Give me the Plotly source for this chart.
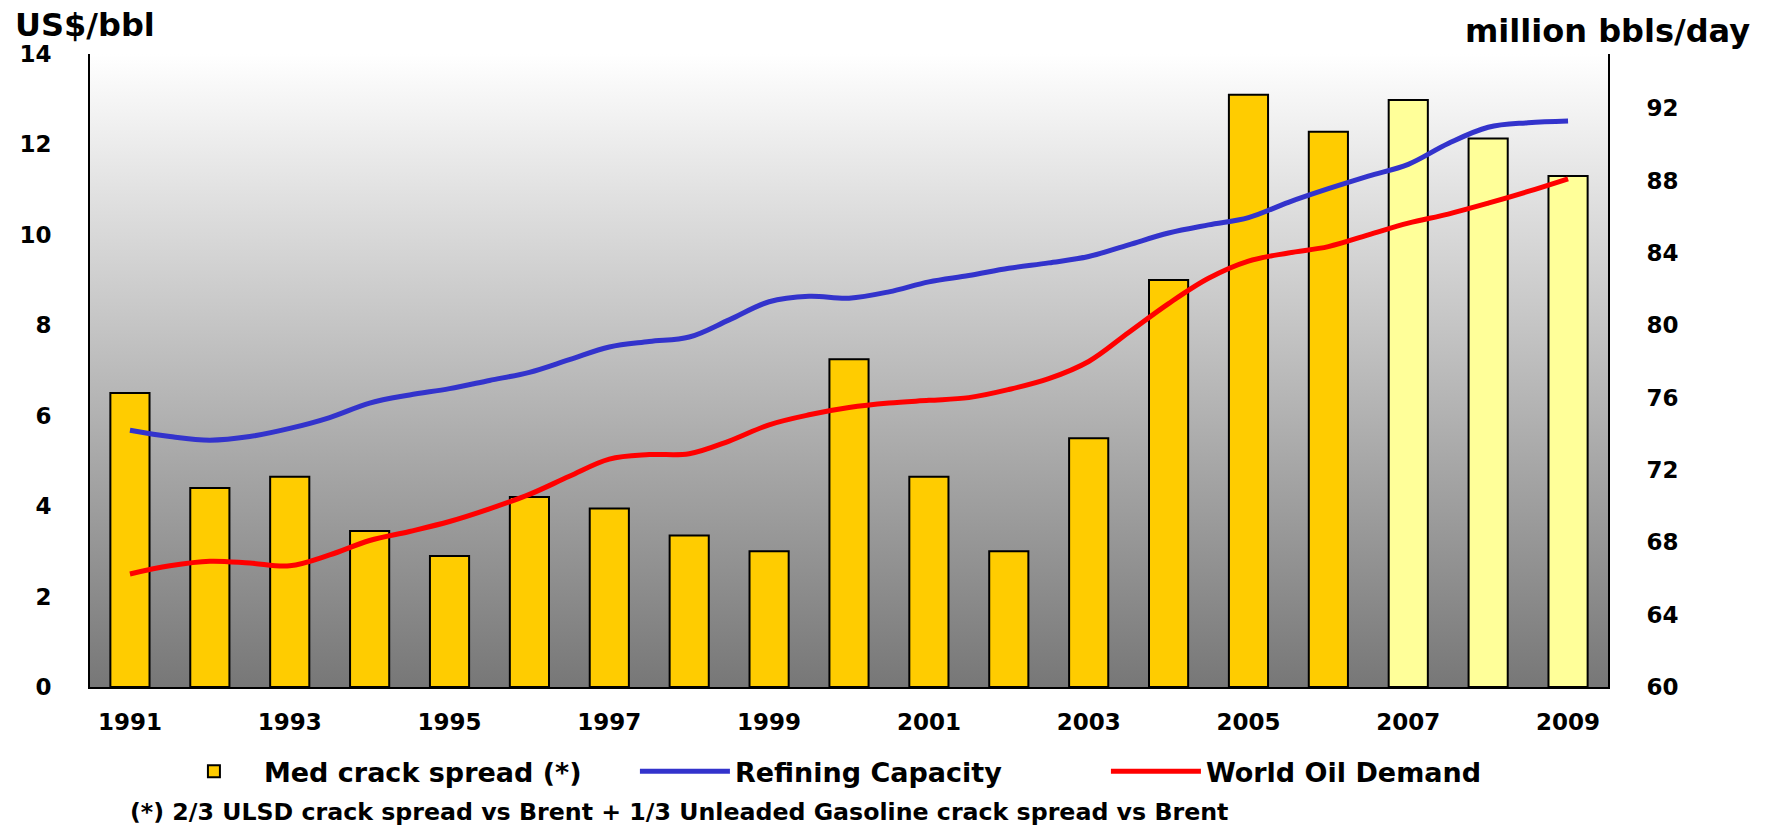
import base64
import plotly.graph_objects as go

# ---------------- data ----------------
years = list(range(1991, 2010))
crack_spread = [6.5, 4.4, 4.65, 3.45, 2.9, 4.2, 3.95, 3.35, 3.0, 7.25,
                4.65, 3.0, 5.5, 9.0, 13.1, 12.28, 12.98, 12.13, 11.3]
forecast_from = 2007

line_x = [1991.0, 1991.5, 1992.0, 1992.5, 1993.0, 1993.5, 1994.0, 1994.5,
          1995.0, 1995.5, 1996.0, 1996.5, 1997.0, 1997.5, 1998.0, 1998.5,
          1999.0, 1999.5, 2000.0, 2000.5, 2001.0, 2001.5, 2002.0, 2002.5,
          2003.0, 2003.5, 2004.0, 2004.5, 2005.0, 2005.5, 2006.0, 2006.5,
          2007.0, 2007.5, 2008.0, 2008.5, 2009.0]
refining_capacity = [74.2, 73.85, 73.65, 73.85, 74.3, 74.9, 75.7, 76.15,
                     76.5, 76.95, 77.4, 78.1, 78.8, 79.1, 79.35, 80.3,
                     81.3, 81.6, 81.5, 81.85, 82.4, 82.75, 83.15, 83.45,
                     83.8, 84.45, 85.1, 85.55, 85.95, 86.8, 87.55, 88.25,
                     88.9, 90.05, 90.95, 91.2, 91.3]
world_demand = [66.25, 66.7, 66.95, 66.85, 66.7, 67.3, 68.1, 68.6,
                69.15, 69.85, 70.65, 71.65, 72.6, 72.85, 72.9, 73.6,
                74.5, 75.05, 75.45, 75.7, 75.85, 76.0, 76.45, 77.05,
                78.0, 79.6, 81.2, 82.6, 83.55, 84.0, 84.35, 85.0,
                85.65, 86.15, 86.75, 87.4, 88.1]

x_tick_vals = [1991, 1993, 1995, 1997, 1999, 2001, 2003, 2005, 2007, 2009]
x_tick_text = [str(v) for v in x_tick_vals]
left_ticks = [0, 2, 4, 6, 8, 10, 12, 14]
right_ticks = [60, 64, 68, 72, 76, 80, 84, 88, 92]

names = ["Med crack spread (*)", "Refining Capacity", "World Oil Demand"]
footnote = "(*) 2/3 ULSD crack spread vs Brent + 1/3 Unleaded Gasoline crack spread vs Brent"

# ---------------- styles ----------------
GOLD = "#FFCC00"
LIGHT = "#FFFF99"
BLUE = "#3333CC"
RED = "#FF0000"
bar_colors = [LIGHT if y >= forecast_from else GOLD for y in years]

tick_font = dict(family="DejaVu Sans", size=23, color="black", weight="bold")
title_font = dict(family="DejaVu Sans", size=32, color="black", weight="bold")

fig = go.Figure()
fig.add_trace(go.Bar(
    x=years, y=crack_spread, name=names[0], width=0.49,
    marker=dict(color=bar_colors, line=dict(color="black", width=2)),
    yaxis="y"))
fig.add_trace(go.Scatter(
    x=line_x, y=refining_capacity, name=names[1], mode="lines",
    line=dict(color=BLUE, width=5, shape="spline"), yaxis="y2"))
fig.add_trace(go.Scatter(
    x=line_x, y=world_demand, name=names[2], mode="lines",
    line=dict(color=RED, width=5, shape="spline"), yaxis="y2"))

svg = ('<svg xmlns="http://www.w3.org/2000/svg" width="100" height="100" '
       'preserveAspectRatio="none"><defs><linearGradient id="g" x1="0" y1="0" '
       'x2="0" y2="1"><stop offset="0" stop-color="#FFFFFF"/>'
       '<stop offset="1" stop-color="#777777"/></linearGradient></defs>'
       '<rect width="100" height="100" fill="url(#g)"/></svg>')
src = "data:image/svg+xml;base64," + base64.b64encode(svg.encode()).decode()

fig.update_layout(
    width=1772, height=827,
    margin=dict(l=90, r=164, t=54, b=140),
    paper_bgcolor="white", plot_bgcolor="rgba(0,0,0,0)",
    showlegend=True,
    images=[dict(source=src, xref="paper", yref="paper", x=0, y=1,
                 sizex=1, sizey=1, xanchor="left", yanchor="top",
                 sizing="stretch", layer="below")],
    xaxis=dict(range=[1990.5, 2009.5], tickvals=x_tick_vals, ticktext=x_tick_text,
               showgrid=False, zeroline=False, showline=True, linecolor="black",
               linewidth=2, ticks="", tickfont=tick_font, ticklabelstandoff=13),
    yaxis=dict(range=[0, 14], tickvals=left_ticks, showgrid=False, zeroline=False,
               showline=True, linecolor="black", linewidth=2, ticks="",
               tickfont=tick_font, ticklabelstandoff=32),
    yaxis2=dict(range=[60, 95], tickvals=right_ticks, overlaying="y", side="right",
                showgrid=False, zeroline=False, showline=True, linecolor="black",
                linewidth=2, ticks="", tickfont=tick_font, ticklabelstandoff=32),
    legend=dict(orientation="h", x=0.0487, y=-0.134, xanchor="left", yanchor="middle",
                font=dict(family="DejaVu Sans", size=27, color="black", weight="bold"),
                itemwidth=90, traceorder="normal", bgcolor="rgba(0,0,0,0)",
                entrywidth=366, entrywidthmode="pixels"),
    annotations=[
        dict(text="US$/bbl", xref="paper", yref="paper", x=-0.0507, y=1.046,
             xanchor="left", yanchor="middle", showarrow=False, font=title_font),
        dict(text="million bbls/day", xref="paper", yref="paper", x=1.0949, y=1.037,
             xanchor="right", yanchor="middle", showarrow=False, font=title_font),
        dict(text=footnote, xref="paper", yref="paper", x=0.025, y=-0.198,
             xanchor="left", yanchor="middle", showarrow=False,
             font=dict(family="DejaVu Sans", size=23.7, color="black", weight="bold")),
    ],
)

fig.write_html("out.html")
